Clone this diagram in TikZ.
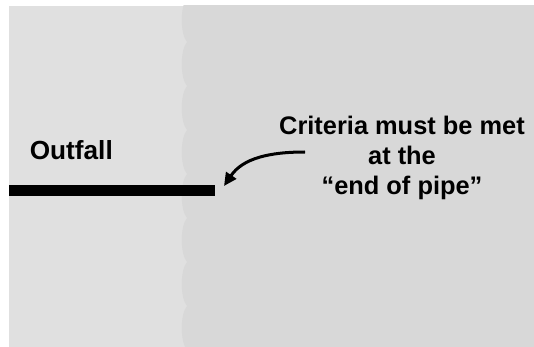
\documentclass[tikz,border=0pt]{standalone}
\usepackage{fontspec}
\setmainfont{Liberation Sans}
\usetikzlibrary{arrows.meta,positioning}

\definecolor{landgray}{RGB}{224,224,224}
\definecolor{watergray}{RGB}{216,216,216}

\begin{document}
\begin{tikzpicture}[x=1pt,y=-1pt,
    label/.style={font=\fontsize{25.4}{29.5}\selectfont\bfseries, inner sep=0pt, align=center},
    pipe/.style={fill=black, inner sep=0pt, minimum width=206.4pt, minimum height=11pt},
    pointer/.style={line width=3pt, -{Triangle[length=13pt,width=12pt]}}]
  \useasboundingbox (0,0) rectangle (534,347);

  \begin{scope}
    \clip (8.6,6) rectangle (534,347);
    \fill [landgray] (8.6,6) rectangle (534,347);
    % wavy shore line
    \fill [watergray] (187,-2)
      foreach \y in {-2,42,...,306} { .. controls (180,\y+8) and (180,\y+36) .. (187,\y+44) }
      -- (540,350) -- (540,-2) -- cycle;
  \end{scope}

  \node [pipe] (pipe) at (111.8,190.5) {};
  \node [label, font=\fontsize{26.2}{29.5}\selectfont\bfseries, anchor=base] (outfall) at (71.3,159.3) {Outfall};
  \node [label, anchor=base] (criteria) at (402,194) {Criteria must be met\\at the\\“end of pipe”};

  \coordinate (from) at (305,152);
  \coordinate (pipeend) at (224,186);
  \draw [pointer] (from) .. controls (270,152) and (243,158) .. (pipeend);
\end{tikzpicture}
\end{document}
